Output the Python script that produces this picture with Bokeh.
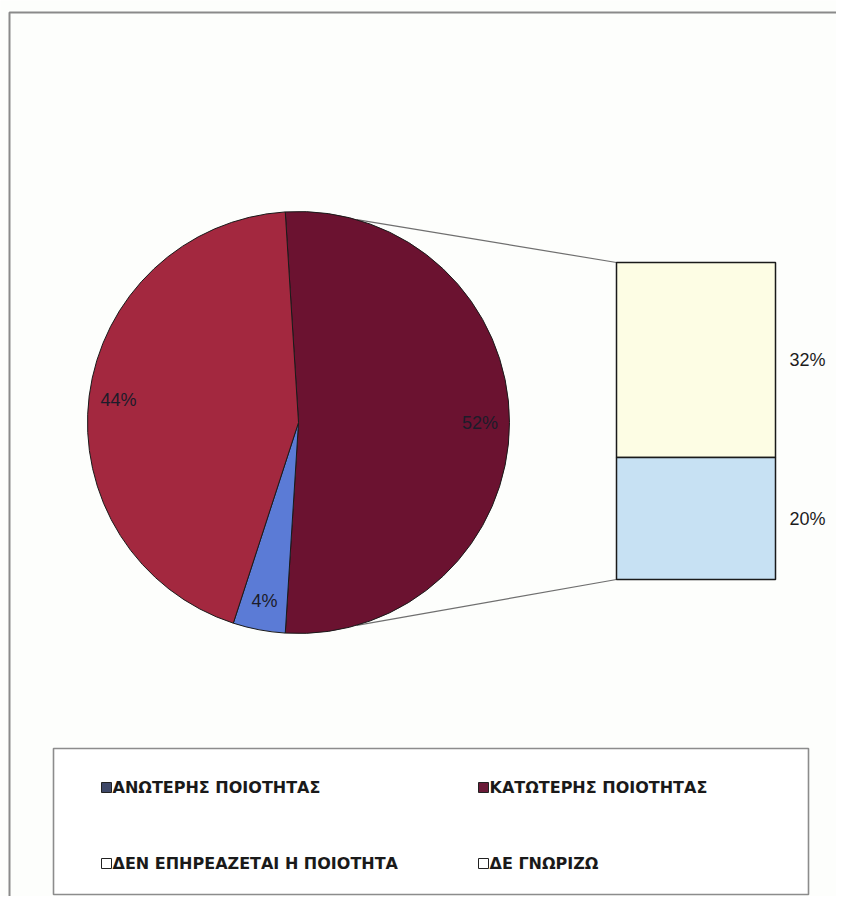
import numpy as np
from bokeh.plotting import figure
from bokeh.models import Range1d, ColumnDataSource
from bokeh.embed import file_html
from bokeh.resources import INLINE
from bokeh.core.properties import value

# ---------------- data ----------------
categories = ["ΑΝΩΤΕΡΗΣ ΠΟΙΟΤΗΤΑΣ", "ΚΑΤΩΤΕΡΗΣ ΠΟΙΟΤΗΤΑΣ",
              "ΔΕΝ ΕΠΗΡΕΑΖΕΤΑΙ Η ΠΟΙΟΤΗΤΑ", "ΔΕ ΓΝΩΡΙΖΩ"]
percent = [4, 44, 32, 20]
pie_categories = ["ΑΝΩΤΕΡΗΣ ΠΟΙΟΤΗΤΑΣ", "ΚΑΤΩΤΕΡΗΣ ΠΟΙΟΤΗΤΑΣ"]
pie_values = [4, 44]
bar_categories = ["ΔΕΝ ΕΠΗΡΕΑΖΕΤΑΙ Η ΠΟΙΟΤΗΤΑ", "ΔΕ ΓΝΩΡΙΖΩ"]
bar_values = [32, 20]

# ---------------- styles ----------------
slice_colors = ["#5b7bd6", "#a3283f"]
other_color = "#6b1230"
bar_colors = ["#fdfde4", "#c7e1f3"]
legend_colors = ["#3e4868", "#6a1a38", "#ffffff", "#ffffff"]
bg = "#fdfefc"

W, H = 836, 896


def py(page_y):
    return H - page_y


p = figure(width=W, height=H, output_backend="svg", toolbar_location=None,
           x_range=Range1d(0, W), y_range=Range1d(0, H),
           min_border=0)
p.axis.visible = False
p.grid.visible = False
p.outline_line_color = None
p.background_fill_color = bg
p.border_fill_color = bg

# outer frame (top and left edges visible)
p.quad(left=[9], right=[900], top=[py(12)], bottom=[py(960)],
       fill_color=None, line_color="#8a8a8a", line_width=2)

# ---------------- pie ----------------
cx, cy, r = 298, py(422), 211
other_val = sum(bar_values)
total = sum(pie_values) + other_val
other_span = other_val / total * 2 * np.pi
start = other_span / 2.0  # other slice centred on the right

# connector lines (under the pie)
bar_left, bar_right = 616, 775
bar_bottom = py(579)
bar_scale = (579 - 262) / other_val
line_ang = np.deg2rad(74)
bar_top = bar_bottom + other_val * bar_scale
p.segment(x0=[cx + r * np.cos(line_ang), cx + r * np.cos(-line_ang)],
          y0=[cy + r * np.sin(line_ang), cy + r * np.sin(-line_ang)],
          x1=[bar_left, bar_left], y1=[bar_top, bar_bottom],
          line_color="#6f6f6f", line_width=1.2)

# other slice
p.wedge(x=cx, y=cy, radius=r, start_angle=-start, end_angle=start,
        fill_color=other_color, line_color="#1a1a1a", line_width=1)

# remaining slices counter-clockwise: red then blue
starts, ends = [], []
a = start
for v in reversed(pie_values):
    span = v / total * 2 * np.pi
    starts.append(a)
    ends.append(a + span)
    a += span
starts = starts[::-1]
ends = ends[::-1]
src = ColumnDataSource(dict(s=starts, e=ends, c=slice_colors))
p.wedge(x=cx, y=cy, radius=r, start_angle="s", end_angle="e",
        fill_color="c", line_color="#1a1a1a", line_width=1, source=src)

# pie labels
lab_r = 0.86 * r
mids = [(s + e) / 2 for s, e in zip(starts, ends)] + [0.0]
lab_txt = [f"{v}%" for v in pie_values] + [f"{other_val}%"]
p.text(x=[cx + lab_r * np.cos(m) for m in mids],
       y=[cy + lab_r * np.sin(m) for m in mids],
       text=lab_txt, text_align="center", text_baseline="middle",
       text_font=value("Liberation Sans"), text_font_size="18px",
       text_color="#1c1c2a")

# ---------------- bar ----------------
bottoms, tops = [], []
b = bar_bottom
for v in reversed(bar_values):
    bottoms.append(b)
    tops.append(b + v * bar_scale)
    b += v * bar_scale
bottoms = bottoms[::-1]
tops = tops[::-1]
p.quad(left=bar_left, right=bar_right, bottom=bottoms, top=tops,
       fill_color=bar_colors, line_color="#1a1a1a", line_width=1.5)
p.text(x=[789, 789], y=[(bt + tp) / 2 for bt, tp in zip(bottoms, tops)],
       text=[f"{v}%" for v in bar_values], text_align="left",
       text_baseline="middle", text_font=value("Liberation Sans"),
       text_font_size="18px", text_color="#1c1c1c")

# ---------------- legend ----------------
p.quad(left=[53], right=[808], top=[py(748)], bottom=[py(894)],
       fill_color="#ffffff", line_color="#8c8c8c", line_width=1.6)
mx = [106, 483, 106, 483]
my = [py(787), py(787), py(863), py(863)]
p.scatter(x=mx, y=my, marker="square", size=10,
          fill_color=legend_colors, line_color="#222222", line_width=1)
p.text(x=[m + 6 for m in mx], y=my, text=categories, text_align="left",
       text_baseline="middle", text_font=value("DejaVu Sans"),
       text_font_style="bold", text_font_size="16px", text_color="#1a1a1a")

open("out.html", "w").write(file_html(p, INLINE))
